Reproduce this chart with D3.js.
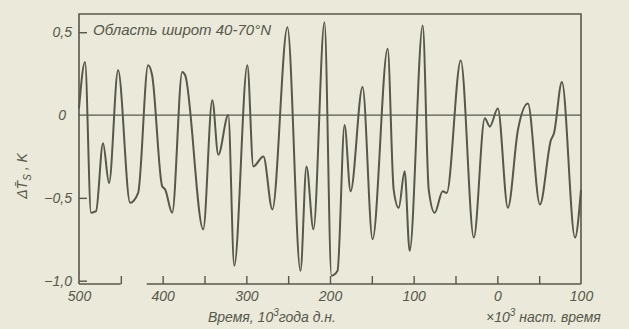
<!DOCTYPE html>
<html>
<head>
<meta charset="utf-8">
<script src="https://cdn.jsdelivr.net/npm/d3@7"></script>
<style>
  html, body { margin: 0; padding: 0; background: #ebe9d9; }
  svg { display: block; }
  text { font-family: "Liberation Sans", "DejaVu Sans", sans-serif; font-style: italic; fill: #55584b; }
</style>
</head>
<body>
<svg id="chart" width="629" height="329"></svg>
<script>
// time, 10^3 years before present (negative = after present)
const timeKyr = [500, 492.8, 485.6, 479.6, 471.3, 464.1, 453.3, 438.9, 429.3, 417.4, 412.6,
  400.6, 397.0, 388.6, 376.6, 373.1, 351.5, 340.7, 333.5, 321.6, 314.4, 298.8, 291.6, 279.6,
  268.9, 250.9, 235.3, 228.1, 219.8, 206.6, 198.2, 191.0, 182.6, 175.4, 161.1, 149.1, 131.1,
  123.9, 117.9, 110.8, 104.8, 89.2, 82.0, 74.9, 65.3, 60.5, 43.7, 28.1, 15.0, 9.0, -0.6,
  -12.6, -24.6, -36.5, -50.9, -64.1, -67.7, -77.2, -92.8, -100];
// temperature anomaly, K
const dTs = [0.04, 0.32, -0.59, -0.58, -0.17, -0.41, 0.27, -0.53, -0.47, 0.30, 0.24,
  -0.43, -0.45, -0.59, 0.26, 0.24, -0.69, 0.09, -0.24, 0.00, -0.91, 0.30, -0.31, -0.25,
  -0.57, 0.53, -0.94, -0.31, -0.69, 0.56, -0.97, -0.94, -0.06, -0.46, 0.17, -0.75, 0.40,
  -0.45, -0.56, -0.34, -0.82, 0.54, -0.45, -0.59, -0.46, -0.47, 0.33, -0.74, -0.02, -0.07, 0.04,
  -0.56, -0.09, 0.07, -0.54, -0.15, -0.11, 0.20, -0.74, -0.45];

const xMinorTicks = [450, 400, 350, 300, 250, 200, 150, 100, 50, 0, -50];
const xLabelTicks = [500, 400, 300, 200, 100, 0, -100];
const yTicks = [0.5, -0.5, -1.0];
const yLabelTicks = [0.5, 0, -0.5, -1.0];

const ink = "#55584b";
const svg = d3.select("#chart");

const x = d3.scaleLinear().domain([500, -100]).range([79, 581]);
const y = d3.scaleLinear().domain([-1.02, 0.61]).range([284, 14]);

const frame = svg.append("g").attr("stroke", ink).attr("stroke-width", 1.6).attr("fill", "none");
// left, top, right
frame.append("path")
  .attr("d", `M${x(500)},${y(-1.02)}V${y(0.61)}H${x(-100)}V${y(-1.02)}`);
// bottom (broken in the original print)
frame.append("line").attr("x1", x(500)).attr("x2", x(450)).attr("y1", y(-1.02)).attr("y2", y(-1.02));
frame.append("line").attr("x1", x(419)).attr("x2", x(-100)).attr("y1", y(-1.02)).attr("y2", y(-1.02));
// zero line
frame.append("line").attr("x1", x(500)).attr("x2", x(-100)).attr("y1", y(0)).attr("y2", y(0))
  .attr("stroke-width", 1.3);

// inward ticks on the bottom axis
svg.append("g")
  .attr("transform", `translate(0,${y(-1.02)})`)
  .call(d3.axisBottom(x).tickValues(xMinorTicks).tickSize(-8).tickFormat(""))
  .call(g => g.select(".domain").remove())
  .call(g => g.selectAll("line").attr("stroke", ink).attr("stroke-width", 1.4));

// x labels
svg.append("g")
  .attr("transform", `translate(0,${y(-1.02)})`)
  .call(d3.axisBottom(x).tickValues(xLabelTicks).tickSize(0).tickPadding(7)
    .tickFormat(d => String(Math.abs(d))))
  .call(g => g.select(".domain").remove())
  .call(g => g.selectAll("text").attr("font-size", 14).attr("font-family", null).attr("fill", ink));

// inward ticks on the left axis
svg.append("g")
  .attr("transform", `translate(${x(500)},0)`)
  .call(d3.axisLeft(y).tickValues(yTicks).tickSize(-8).tickFormat(""))
  .call(g => g.select(".domain").remove())
  .call(g => g.selectAll("line").attr("stroke", ink).attr("stroke-width", 1.4));

// y labels
svg.append("g")
  .attr("transform", `translate(${x(500)},0)`)
  .call(d3.axisLeft(y).tickValues(yLabelTicks).tickSize(0).tickPadding(7)
    .tickFormat(d => d === 0 ? "0" : d3.format(".1f")(d).replace(".", ",").replace("-", "–")))
  .call(g => g.select(".domain").remove())
  .call(g => g.selectAll("text").attr("font-size", 14).attr("font-family", null).attr("fill", ink))
  .call(g => g.selectAll(".tick").filter(d => d === 0).select("text").attr("dx", -6));

// curve
const line = d3.line()
  .x((d, i) => x(timeKyr[i]))
  .y(d => y(d))
  .curve(d3.curveMonotoneX);

svg.append("path")
  .datum(dTs)
  .attr("fill", "none")
  .attr("stroke", ink)
  .attr("stroke-width", 2)
  .attr("stroke-linejoin", "round")
  .attr("d", line);

// titles
svg.append("text")
  .attr("x", 93).attr("y", 35)
  .attr("font-size", 15)
  .text("Область широт 40-70°N");

const xt = svg.append("text").attr("x", 208).attr("y", 322).attr("font-size", 14);
xt.append("tspan").text("Время, 10");
xt.append("tspan").attr("dy", -6).attr("font-size", 10).text("3");
xt.append("tspan").attr("dy", 6).text("года д.н.");

const xr = svg.append("text").attr("x", 486).attr("y", 322).attr("font-size", 14);
xr.append("tspan").text("×10");
xr.append("tspan").attr("dy", -6).attr("font-size", 10).text("3");
xr.append("tspan").attr("dy", 6).text(" наст. время");

const yl = svg.append("text")
  .attr("transform", "translate(27,176) rotate(-90)")
  .attr("text-anchor", "middle")
  .attr("font-size", 14);
yl.append("tspan").text("ΔT̄");
yl.append("tspan").attr("dy", 4).attr("font-size", 10).text("S");
yl.append("tspan").attr("dy", -4).text(" , K");
</script>
</body>
</html>
